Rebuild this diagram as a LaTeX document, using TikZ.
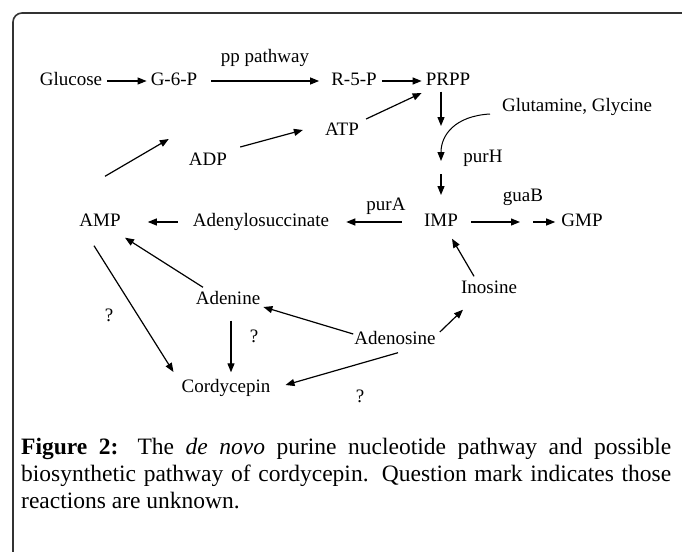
\documentclass[tikz,border=0pt]{standalone}
\usepackage{fontspec}
\setmainfont{Liberation Serif}
\usetikzlibrary{arrows.meta,calc}
\begin{document}
\begin{tikzpicture}[x=1pt,y=-1pt,
  lbl/.style={font=\fontsize{19}{22}\selectfont, inner sep=2pt, text height=13pt, text depth=4pt},
  arr/.style={-{Triangle[length=9pt,width=7pt]}, line width=1.2pt},
  capt/.style={anchor=base west, inner sep=0pt, font=\fontsize{23.5}{27}\selectfont}
]
\useasboundingbox (0,0) rectangle (682,551);
\fill[white] (0,0) rectangle (682,551);
\clip (0,0) rectangle (682,551);
\draw[line width=1.6pt, draw=black!80, rounded corners=9pt] (13,13) rectangle (720,600);

% nodes
\node[lbl] (glu) at (71,81) {Glucose};
\node[lbl] (g6p) at (174,81) {G-6-P};
\node[lbl] (r5p) at (354,81) {R-5-P};
\node[lbl] (prpp) at (448,81) {PRPP};
\node[lbl] (pp) at (265,58) {pp pathway};
\node[lbl] (gg) at (577,107) {Glutamine, Glycine};
\node[lbl] (atp) at (342,131) {ATP};
\node[lbl] (adp) at (208,161) {ADP};
\node[lbl] (purh) at (483,158) {purH};
\node[lbl] (guab) at (523,197) {guaB};
\node[lbl] (pura) at (386,206) {purA};
\node[lbl] (amp) at (100,222) {AMP};
\node[lbl] (ads) at (261,222) {Adenylosuccinate};
\node[lbl] (imp) at (441,222) {IMP};
\node[lbl] (gmp) at (582,222) {GMP};
\node[lbl] (ino) at (489,289) {Inosine};
\node[lbl] (ade) at (228,300) {Adenine};
\node[lbl] (ados) at (395,340) {Adenosine};
\node[lbl] (cord) at (226,388) {Cordycepin};
\node[lbl] (q1) at (109,317) {?};
\node[lbl] (q2) at (254,338) {?};
\node[lbl] (q3) at (360,398) {?};

% helper coordinates on the PRPP -> IMP line
\coordinate (p1) at (441,126);
\coordinate (cstart) at (490,114);
\coordinate (cend) at (441,161);
\coordinate (p2) at (441,174);
\coordinate (p3) at (441,195);
\coordinate (m1) at (520,222);
\coordinate (m2) at (533,222);

% top row
\draw[arr, shorten <=3pt, shorten >=2pt] (glu.east) -- (g6p.west);
\draw[arr, shorten <=12pt, shorten >=10pt] (g6p.east) -- (r5p.west);
\draw[arr, shorten <=3pt, shorten >=2pt] (r5p.east) -- (prpp.west);
\draw[arr] (prpp.south -| p1) -- (p1);
\draw[arr, line width=1pt] (cstart) .. controls (455,116) and (441,135) .. (cend);
\draw[arr] (p2) -- (p3);

% IMP -> GMP
\draw[arr, shorten <=11pt] (imp.east) -- (m1);
\draw[arr, shorten >=4pt] (m2) -- (gmp.west);

% IMP -> Adenylosuccinate -> AMP
\draw[arr, shorten <=20pt, shorten >=15pt] (imp.west) -- (ads.east);
\draw[arr, shorten <=13pt, shorten >=25pt] (ads.west) -- (amp.east);

% AMP -> ADP -> ATP -> PRPP
\draw[arr] ($(amp.north)+(5,-35)$) -- ($(adp.west)+(-18,-22)$);
\draw[arr] ($(adp.east)+(11,-14)$) -- ($(atp.west)+(-20,-1)$);
\draw[arr] ($(atp.east)+(5,-12)$) -- ($(prpp.west)+(-2,12)$);

% lower part
\draw[arr] ($(ino.north)+(-15,-2)$) -- ($(imp.south)+(11,6)$);
\draw[arr] ($(ade.north)+(-25,-2)$) -- ($(amp.south)+(25,5)$);
\draw[arr] ($(amp.south)+(-6,13)$) -- ($(cord.west)+(-6,-16)$);
\draw[arr] ($(ade.south)+(3,10)$) -- ($(cord.north)+(5,-5)$);
\draw[arr] ($(ados.west)+(1,-6)$) -- ($(ade.east)+(1,7)$);
\draw[arr] ($(ados.east)+(2,-8)$) -- ($(ino.south)+(-26,10)$);
\draw[arr] ($(ados.south)+(3,2)$) -- ($(cord.east)+(13,-3)$);

% caption
\node[capt] (cap1) at (21,454) {\makebox[650pt][s]{\textbf{Figure 2:} The \textit{de novo} purine nucleotide pathway and possible}};
\node[capt] (cap2) at (21,481) {\makebox[650pt][s]{biosynthetic pathway of cordycepin. Question mark indicates those}};
\node[capt] (cap3) at (21,508) {reactions are unknown.};
\end{tikzpicture}
\end{document}
